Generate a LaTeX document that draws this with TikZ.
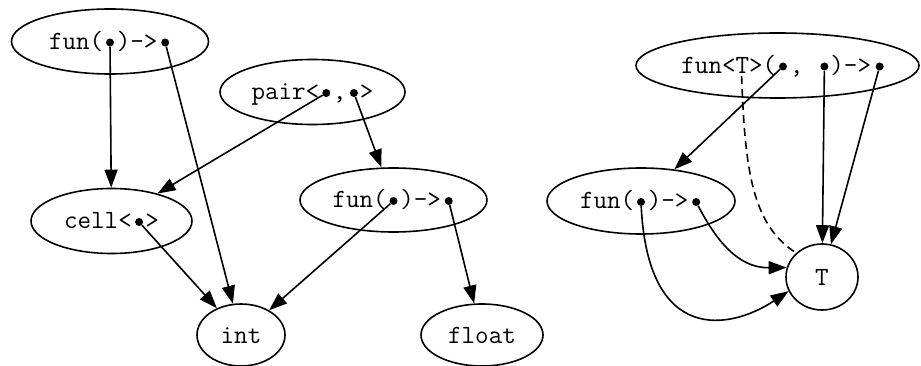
\documentclass[tikz,border=0pt]{standalone}
\usepackage{fontspec}
\usetikzlibrary{shapes.geometric,arrows.meta}
\newcommand\pslot{\phantom{0}}
\begin{document}
\begin{tikzpicture}[x=1pt,y=-1pt,
  txt/.style={font=\ttfamily\fontsize{26.3}{30}\selectfont, text height=16pt, text depth=0pt},
  ell/.style={draw, ellipse, line width=1.6pt, inner sep=0pt, txt},
  lbl/.style={inner sep=0pt, txt},
  port/.style={circle, fill, inner sep=0pt, minimum size=8pt},
  conn/.style={line width=1.6pt, -{Triangle[length=18pt,width=13pt]}},
  dashconn/.style={line width=1.6pt, dash pattern=on 8pt off 5pt},
]
\useasboundingbox (0,0) rectangle (921,366);

% left graph
\node[ell, minimum width=197pt, minimum height=65pt] (funA) at (110,41.5) {fun(\pslot)->\pslot};
\node[port] (pA1) at (110,42.5) {};
\node[port] (pA2) at (165.2,42.5) {};

\node[ell, minimum width=185pt, minimum height=65pt] (pair) at (312.5,92) {pair<\pslot,\pslot>};
\node[port] (pP1) at (326.3,93) {};
\node[port] (pP2) at (353.9,93) {};

\node[ell, minimum width=161pt, minimum height=65pt] (cell) at (111.5,221) {cell<\pslot>};
\node[port] (pC) at (139.1,222) {};

\node[ell, minimum width=187pt, minimum height=64pt] (funB) at (393.5,200) {fun(\pslot)->\pslot};
\node[port] (pF1) at (393.5,201) {};
\node[port] (pF2) at (448.7,201) {};

\node[ell, minimum width=88pt, minimum height=62pt] (int) at (241,335) {int};
\node[ell, minimum width=122pt, minimum height=62pt] (float) at (482,335) {float};

\draw[conn] (pA1) -- (cell);
\draw[conn] (pA2) -- (int);
\draw[conn] (pP1) -- (cell);
\draw[conn] (pP2) -- (funB);
\draw[conn] (pC) -- (int);
\draw[conn] (pF1) -- (int);
\draw[conn] (pF2) -- (float);

% right graph
\node[draw, ellipse, line width=1.6pt, inner sep=0pt, minimum width=283pt, minimum height=65pt] (funT) at (777.5,65.5) {};
\node[lbl] (funTlbl) at (783,65.5) {fun<T>(\pslot,\pslot\pslot)->\pslot};
\node[port] (pT1) at (783,66.5) {};
\node[port] (pT2) at (824.4,66.5) {};
\node[port] (pT3) at (879.6,66.5) {};
\coordinate (tport) at (741.6,76);

\node[ell, minimum width=188pt, minimum height=66pt] (funC) at (641,201) {fun(\pslot)->\pslot};
\node[port] (pG1) at (641,202) {};
\node[port] (pG2) at (696.2,202) {};

\node[ell, minimum width=72pt, minimum height=66pt] (T) at (822,277) {T};

\draw[conn] (pT1) -- (funC);
\draw[conn] (pT2) -- (T);
\draw[conn] (pT3) -- (T);
\draw[dashconn] (tport) .. controls (745,170) and (752,225) .. (T.137);
\draw[conn] (pG2) .. controls (722,252) and (745,268) .. (T.165);
\draw[conn] (pG1) .. controls (648,345) and (730,330) .. (T.203);
\end{tikzpicture}
\end{document}
